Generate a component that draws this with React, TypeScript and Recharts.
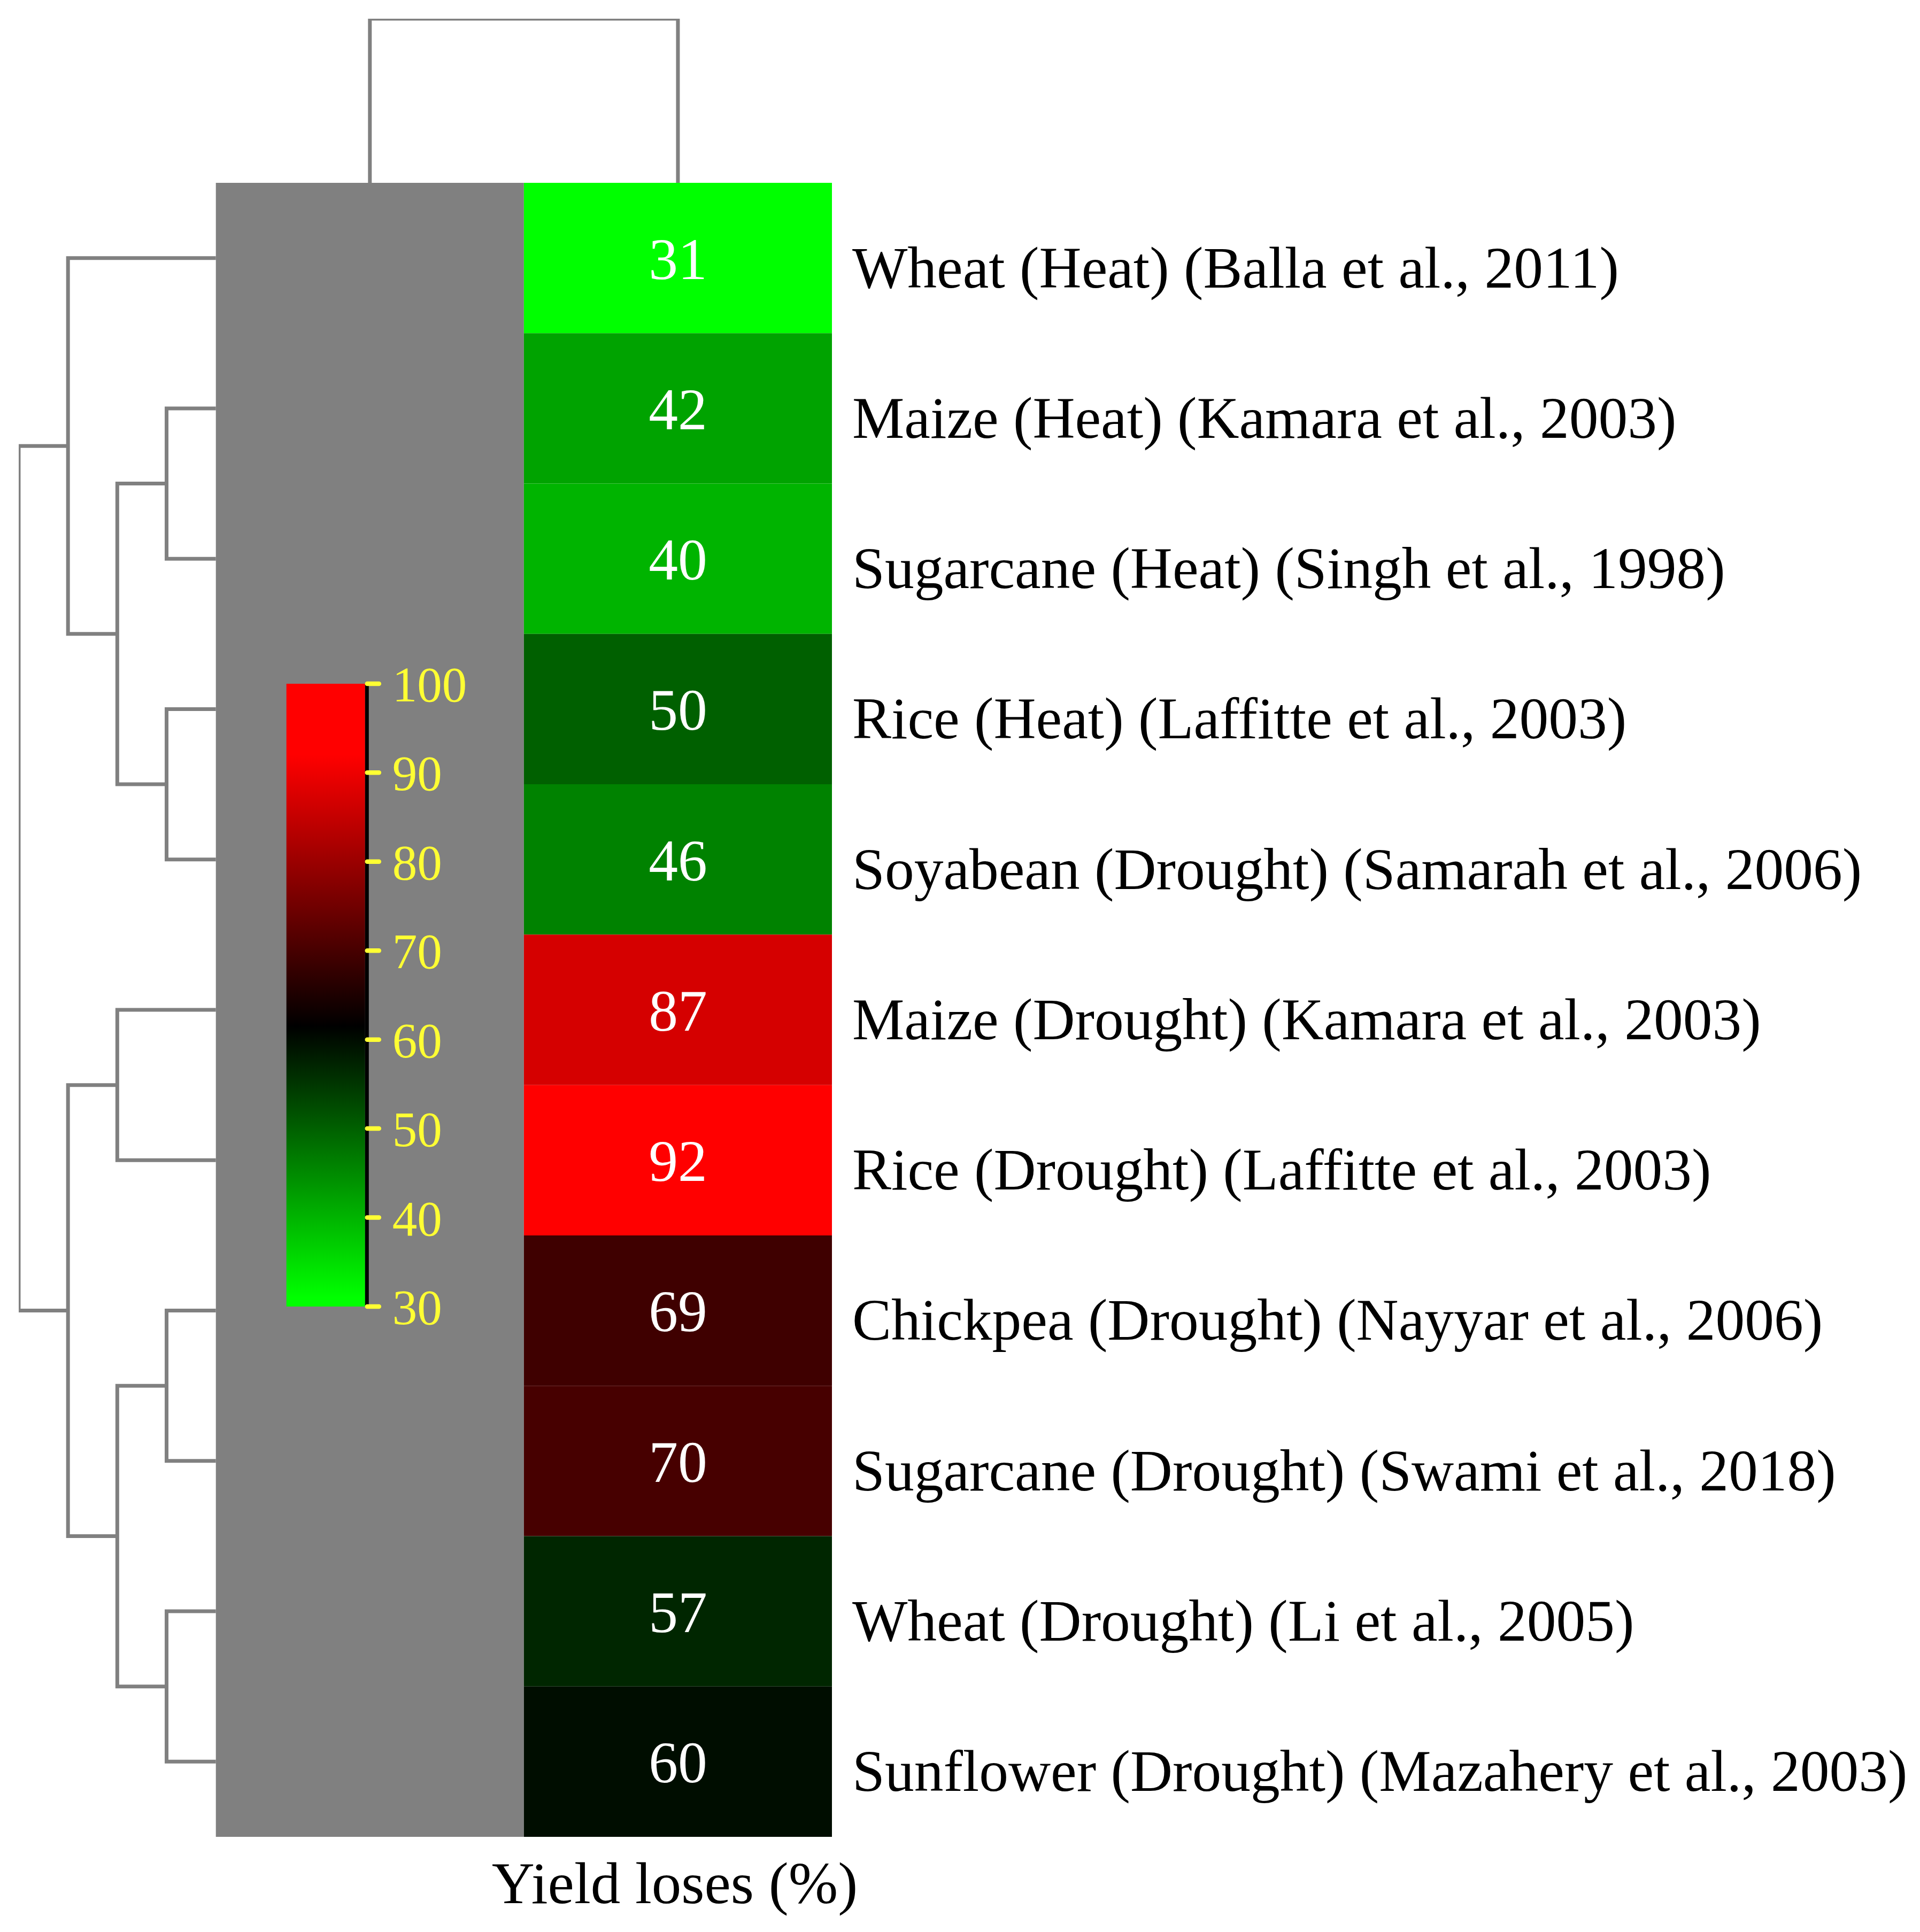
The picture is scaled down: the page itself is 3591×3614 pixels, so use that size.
import React from 'react';
import { ComposedChart, XAxis, YAxis, Scatter, ReferenceArea, ReferenceLine } from 'recharts';

const rowLabels = [
  'Wheat (Heat) (Balla et al., 2011)',
  'Maize (Heat) (Kamara et al., 2003)',
  'Sugarcane (Heat) (Singh et al., 1998)',
  'Rice (Heat) (Laffitte et al., 2003)',
  'Soyabean (Drought) (Samarah et al., 2006)',
  'Maize (Drought) (Kamara et al., 2003)',
  'Rice (Drought) (Laffitte et al., 2003)',
  'Chickpea (Drought) (Nayyar et al., 2006)',
  'Sugarcane (Drought) (Swami et al., 2018)',
  'Wheat (Drought) (Li et al., 2005)',
  'Sunflower (Drought) (Mazahery et al., 2003)',
];
const yieldLoss = [31, 42, 40, 50, 46, 87, 92, 69, 70, 57, 60];
const columnLabels = ['', 'Yield loses (%)'];

// [a, b, height] ; ids below rowLabels.length are rows, the rest are earlier merges
const rowMerges: [number, number, number][] = [
  [1, 2, 1],
  [3, 4, 1],
  [11, 12, 2],
  [0, 13, 3],
  [5, 6, 2],
  [7, 8, 1],
  [9, 10, 1],
  [16, 17, 2],
  [15, 18, 3],
  [14, 19, 4],
];
const colMerges: [number, number, number][] = [[0, 1, 1]];
const scaleTicks = [30, 40, 50, 60, 70, 80, 90, 100];

const FONT = '"Liberation Serif", "Times New Roman", serif';
const LINE = '#808080';
const YELLOW = '#FFFF33';
const TEXT_SIZE = 109.5;
const ROW_STEP = 0.16; // x units per dendrogram level
const COL_STEP = 1.0915; // y units per dendrogram level
// colour key placement (data units)
const CB_X1 = 0.229;
const CB_X2 = 0.4844;
const CB_EDGE = 0.4965;
const CB_TICK0 = 0.4913;
const CB_TICK1 = 0.5295;
const CB_TOP = 3.331;
const CB_BOTTOM = 7.473;

const lo = Math.min(...yieldLoss);
const hi = Math.max(...yieldLoss);
const mid = (lo + hi) / 2;
const scaleMin = scaleTicks[0];
const scaleMax = scaleTicks[scaleTicks.length - 1];

function heatColor(v: number) {
  if (v <= mid) {
    const g = Math.round(255 * Math.min(1, (mid - v) / (mid - lo)));
    return `rgb(0,${g},0)`;
  }
  const r = Math.round(255 * Math.min(1, (v - mid) / (hi - mid)));
  return `rgb(${r},0,0)`;
}

const cbY = (v: number) => CB_TOP + ((scaleMax - v) / (scaleMax - scaleMin)) * (CB_BOTTOM - CB_TOP);

function dendro(n: number, merges: [number, number, number][]) {
  const pos: number[] = [];
  const ht: number[] = [];
  for (let i = 0; i < n; i++) {
    pos.push(i + 0.5);
    ht.push(0);
  }
  return merges.map(([a, b, h]) => {
    pos.push((pos[a] + pos[b]) / 2);
    ht.push(h);
    return [
      [pos[a], ht[a]],
      [pos[a], h],
      [pos[b], h],
      [pos[b], ht[b]],
    ];
  });
}

const rowPaths = dendro(rowLabels.length, rowMerges).map((p) => p.map(([pp, h]) => ({ x: -h * ROW_STEP, y: pp })));
const colPaths = dendro(columnLabels.length, colMerges).map((p) => p.map(([pp, h]) => ({ x: pp, y: -h * COL_STEP })));

const xMin = -Math.max(...rowMerges.map((m) => m[2])) * ROW_STEP;
const yMin = -Math.max(...colMerges.map((m) => m[2])) * COL_STEP;
const rowTicks = rowLabels.map((_, i) => i + 0.5);
const colTicks = columnLabels.map((_, i) => i + 0.5).filter((_, i) => columnLabels[i] !== '');

const gradStops = [scaleMax, hi, mid, lo, scaleMin];

function RowTick({ x, y, payload }: any) {
  const label = rowLabels[Math.floor(payload.value)];
  return (
    <text x={x} y={y} dy={0.355 * TEXT_SIZE + 16} fill="#000" fontSize={TEXT_SIZE} fontFamily={FONT} textAnchor="start">
      {label}
    </text>
  );
}

export default function App() {
  return (
    <div style={{ position: 'absolute', left: 0, top: 0, background: '#fff' }}>
      <ComposedChart width={3591} height={3614} margin={{ top: 35, left: 35, right: 0, bottom: 0 }}>
        <defs>
          <linearGradient id="scaleGrad" x1="0" y1="0" x2="0" y2="1">
            {gradStops.map((v) => (
              <stop key={v} offset={(scaleMax - v) / (scaleMax - scaleMin)} stopColor={heatColor(v)} />
            ))}
          </linearGradient>
        </defs>
        <XAxis
          type="number"
          dataKey="x"
          domain={[xMin, columnLabels.length]}
          allowDataOverflow
          ticks={colTicks}
          interval={0}
          tickFormatter={(v) => columnLabels[Math.floor(v)]}
          axisLine={false}
          tickLine={false}
          tickSize={0}
          tickMargin={45}
          height={178}
          tick={{ fill: '#000', fontSize: 111, fontFamily: FONT, dx: -6 }}
        />
        <YAxis
          type="number"
          dataKey="y"
          orientation="right"
          reversed
          domain={[yMin, rowLabels.length]}
          allowDataOverflow
          ticks={rowTicks}
          interval={0}
          axisLine={false}
          tickLine={false}
          tickSize={0}
          tickMargin={38}
          width={2035}
          tick={<RowTick />}
        />
        <ReferenceArea x1={0} x2={1} y1={0} y2={rowLabels.length} fill="#808080" fillOpacity={1} stroke="none" />
        {yieldLoss.map((v, i) => (
          <ReferenceArea
            key={`cell-${i}`}
            x1={1}
            x2={2}
            y1={i}
            y2={i + 1}
            fill={heatColor(v)}
            fillOpacity={1}
            stroke="none"
            label={{ value: v, position: 'center', fill: '#fff', fontSize: TEXT_SIZE, fontFamily: FONT }}
          />
        ))}
        <ReferenceArea x1={CB_X1} x2={CB_X2} y1={cbY(scaleMax)} y2={cbY(scaleMin)} fill="url(#scaleGrad)" fillOpacity={1} stroke="none" />
        <ReferenceArea x1={CB_X2} x2={CB_EDGE} y1={cbY(scaleMax)} y2={cbY(scaleMin)} fill="#000" fillOpacity={1} stroke="none" />
        {scaleTicks.map((v) => (
          <ReferenceLine
            key={`tick-${v}`}
            segment={[
              { x: CB_TICK0, y: cbY(v) },
              { x: CB_TICK1, y: cbY(v) },
            ]}
            stroke={YELLOW}
            strokeWidth={8.5}
            strokeLinecap="round"
            label={{ value: v, position: 'right', offset: 25, fill: YELLOW, fontSize: 93, fontFamily: FONT }}
          />
        ))}
        {rowPaths.map((p, i) => (
          <Scatter
            key={`rd-${i}`}
            data={p}
            line={{ stroke: LINE, strokeWidth: 7 }}
            shape={() => <g />}
            isAnimationActive={false}
          />
        ))}
        {colPaths.map((p, i) => (
          <Scatter
            key={`cd-${i}`}
            data={p}
            line={{ stroke: LINE, strokeWidth: 7 }}
            shape={() => <g />}
            isAnimationActive={false}
          />
        ))}
      </ComposedChart>
    </div>
  );
}
